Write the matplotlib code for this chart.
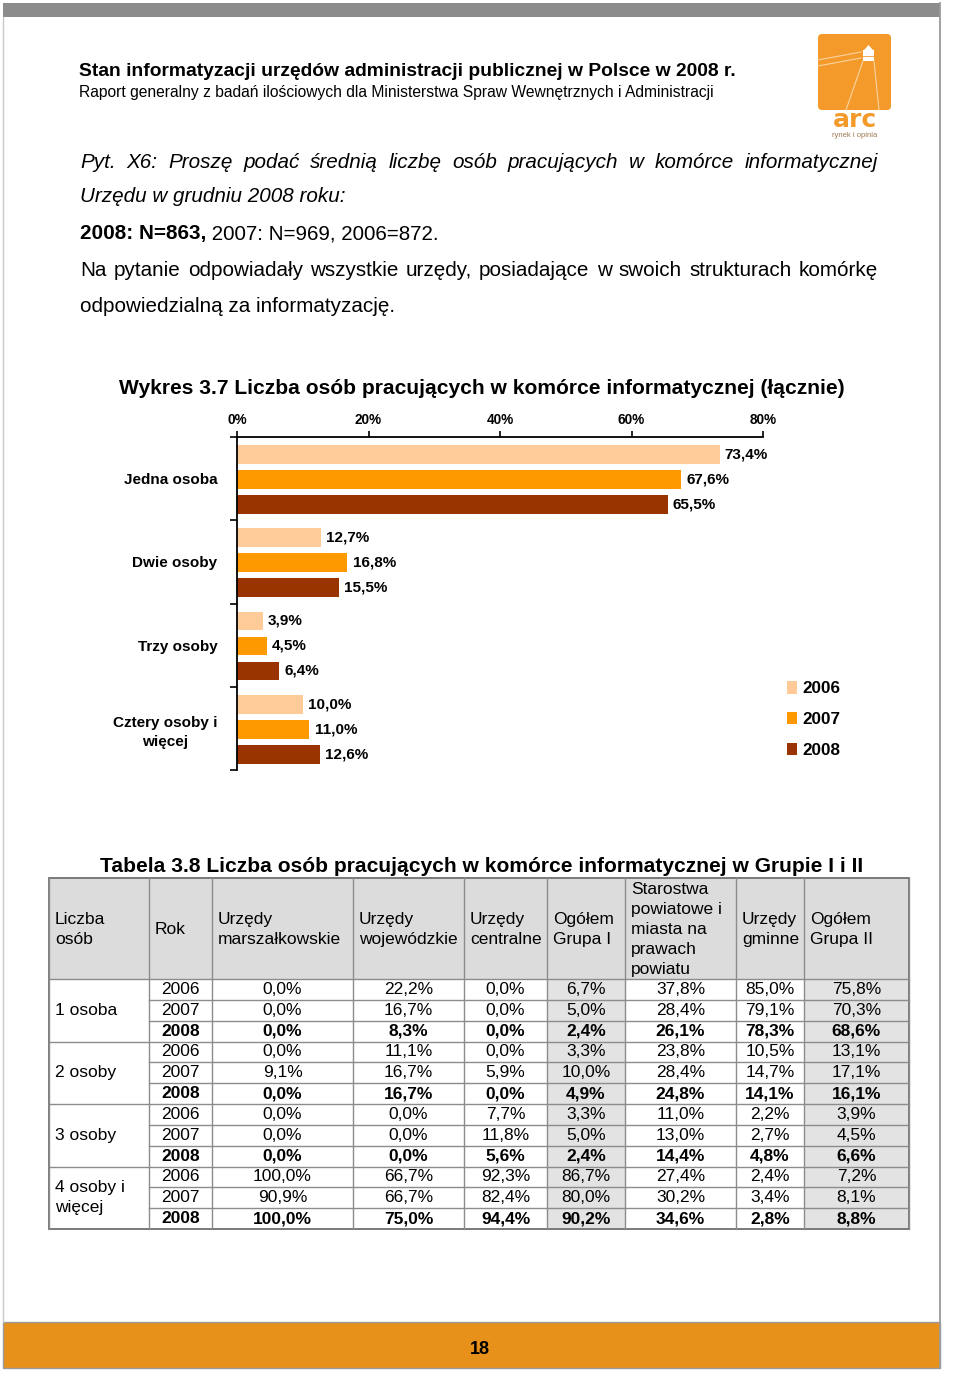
import matplotlib
matplotlib.use('Agg')
import matplotlib.pyplot as plt
from matplotlib.patches import Rectangle, FancyBboxPatch, Polygon
import numpy as np

plt.rcParams['font.family'] = ['Liberation Sans', 'DejaVu Sans']

# ---------------- chart data ----------------
categories = ["Jedna osoba", "Dwie osoby", "Trzy osoby", "Cztery osoby i\nwięcej"]
years = ["2006", "2007", "2008"]
share_2006 = [73.4, 12.7, 3.9, 10.0]
share_2007 = [67.6, 16.8, 4.5, 11.0]
share_2008 = [65.5, 15.5, 6.4, 12.6]
x_ticks = [0, 20, 40, 60, 80]
x_tick_labels = ["0%", "20%", "40%", "60%", "80%"]
bar_colors = ["#FFCC99", "#FF9900", "#993300"]

# ---------------- table data ----------------
table_headers = ["Liczba\nosób", "Rok", "Urzędy\nmarszałkowskie", "Urzędy\nwojewódzkie",
                 "Urzędy\ncentralne", "Ogółem\nGrupa I",
                 "Starostwa\npowiatowe i\nmiasta na\nprawach\npowiatu",
                 "Urzędy\ngminne", "Ogółem\nGrupa II"]
table_groups = ["1 osoba", "2 osoby", "3 osoby", "4 osoby i\nwięcej"]
table_years = ["2006", "2007", "2008"]
urz_marszalkowskie = [0.0, 0.0, 0.0, 0.0, 9.1, 0.0, 0.0, 0.0, 0.0, 100.0, 90.9, 100.0]
urz_wojewodzkie = [22.2, 16.7, 8.3, 11.1, 16.7, 16.7, 0.0, 0.0, 0.0, 66.7, 66.7, 75.0]
urz_centralne = [0.0, 0.0, 0.0, 0.0, 5.9, 0.0, 7.7, 11.8, 5.6, 92.3, 82.4, 94.4]
ogolem_grupa_1 = [6.7, 5.0, 2.4, 3.3, 10.0, 4.9, 3.3, 5.0, 2.4, 86.7, 80.0, 90.2]
starostwa = [37.8, 28.4, 26.1, 23.8, 28.4, 24.8, 11.0, 13.0, 14.4, 27.4, 30.2, 34.6]
urz_gminne = [85.0, 79.1, 78.3, 10.5, 14.7, 14.1, 2.2, 2.7, 4.8, 2.4, 3.4, 2.8]
ogolem_grupa_2 = [75.8, 70.3, 68.6, 13.1, 17.1, 16.1, 3.9, 4.5, 6.6, 7.2, 8.1, 8.8]
value_columns = [urz_marszalkowskie, urz_wojewodzkie, urz_centralne, ogolem_grupa_1,
                 starostwa, urz_gminne, ogolem_grupa_2]
shaded_columns = [5, 8]


def pct(v):
    return f"{v:.1f}%".replace('.', ',')


W, H = 960, 1380
fig = plt.figure(figsize=(W / 100, H / 100), dpi=100)
renderer = fig.canvas.get_renderer()

bg = fig.add_axes([0, 0, 1, 1])
bg.set_xlim(0, W)
bg.set_ylim(H, 0)
bg.axis('off')


def text_width(t):
    return t.get_window_extent(renderer=renderer).width


def fit_text(ax, x, y, s, width, size0=12, **kw):
    t = ax.text(x, y, s, fontsize=size0, **kw)
    w = text_width(t)
    t.set_fontsize(size0 * width / w)
    return t


def justify(ax, x0, x1, y, s, size, **kw):
    words = s.split()
    ts = [ax.text(x0, y, w, fontsize=size, va='center', ha='left', **kw) for w in words]
    widths = [text_width(t) for t in ts]
    gap = (x1 - x0 - sum(widths)) / (len(words) - 1)
    x = x0
    for t, w in zip(ts, widths):
        t.set_x(x)
        x += w + gap


# ---------------- page frame ----------------
bg.add_patch(Rectangle((3, 3), 937, 14, facecolor='#8c8c8c', edgecolor='none'))
bg.plot([940, 940], [3, 1368], color='#9a9a9a', lw=1.3)
bg.plot([3, 3], [17, 1322], color='#c8c8c8', lw=1.0)
bg.add_patch(Rectangle((3, 1322), 937, 46, facecolor='#E8911A', edgecolor='#9a9a9a', lw=1.0))
bg.text(480, 1349, "18", fontsize=13, weight='bold', ha='center', va='center', color='black')

# ---------------- header ----------------
fit_text(bg, 79, 72, "Stan informatyzacji urzędów administracji publicznej w Polsce w 2008 r.",
         654, weight='bold', va='center', ha='left')
fit_text(bg, 79, 93, "Raport generalny z badań ilościowych dla Ministerstwa Spraw Wewnętrznych i Administracji",
         638, va='center', ha='left')

# logo
logo_orange = '#F39A2B'
bg.add_patch(FancyBboxPatch((818, 34), 73, 76, boxstyle='round,pad=0,rounding_size=4',
                            facecolor=logo_orange, edgecolor='none'))
bg.plot([818, 861], [60, 52], color='#FBD3A0', lw=0.8)
bg.plot([818, 861], [66, 58], color='#FBD3A0', lw=0.8)
bg.plot([863, 846], [61, 110], color='#FBD3A0', lw=0.8)
bg.plot([874, 879], [61, 110], color='#FBD3A0', lw=0.8)
bg.add_patch(Rectangle((863, 50), 11, 11, facecolor='white', edgecolor='none'))
bg.add_patch(Polygon([(864, 50), (868.5, 45), (873, 50)], closed=True, facecolor='white', edgecolor='none'))
bg.plot([863, 874], [56, 56], color=logo_orange, lw=0.6)
bg.text(854.5, 127, "arc", fontsize=18, weight='bold', va='baseline', ha='center', color=logo_orange,
        family=['DejaVu Sans'])
bg.text(854.5, 137, "rynek i opinia", fontsize=5.5, va='baseline', ha='center', color='#a07850')

# ---------------- question text ----------------
probe = bg.text(80, 306, "odpowiedzialną za informatyzację.", fontsize=12, va='center', ha='left')
q_size = 12 * 316 / text_width(probe)
probe.set_fontsize(q_size)
justify(bg, 80, 878, 162, "Pyt. X6: Proszę podać  średnią liczbę osób pracujących w komórce informatycznej",
        q_size, style='italic')
bg.text(80, 197, "Urzędu w grudniu 2008 roku:", fontsize=q_size, style='italic', va='center', ha='left')
tb = bg.text(80, 234, "2008: N=863,", fontsize=q_size, weight='bold', va='center', ha='left')
bg.text(80 + text_width(tb), 234, " 2007: N=969, 2006=872.", fontsize=q_size, va='center', ha='left')
justify(bg, 80, 878, 270, "Na pytanie odpowiadały wszystkie urzędy, posiadające w swoich strukturach komórkę",
        q_size)

# ---------------- chart ----------------
fit_text(bg, 119, 388, "Wykres 3.7 Liczba osób pracujących w komórce informatycznej (łącznie)",
         721, weight='bold', va='center', ha='left')

ax = fig.add_axes([237 / W, 1 - 770 / H, 526 / W, 333 / H])
ypos = np.arange(len(categories)) + 0.5
series = [share_2006, share_2007, share_2008]
handles = []
for j, (vals, col) in enumerate(zip(series, bar_colors)):
    yy = ypos + (j - 1) * 0.3 + 0.01
    b = ax.barh(yy, vals, height=0.225, color=col, label=years[j])
    handles.append(b)
    for v, y in zip(vals, yy):
        ax.text(v + 0.8, y, pct(v), va='center', ha='left', fontsize=11, weight='bold')

ax.set_xlim(0, 80)
ax.set_ylim(len(categories), 0)
ax.spines['right'].set_visible(False)
ax.spines['bottom'].set_visible(False)
ax.spines['top'].set_linewidth(1.3)
ax.spines['left'].set_linewidth(1.3)
ax.xaxis.tick_top()
ax.set_xticks(x_ticks, x_tick_labels)
ax.tick_params(axis='x', direction='out', length=4, width=1.2, pad=3.5, labelsize=9.8)
for lbl in ax.get_xticklabels():
    lbl.set_fontweight('bold')
ax.set_yticks(ypos, categories)
ax.tick_params(axis='y', which='major', length=0, pad=14, labelsize=11)
for lbl in ax.get_yticklabels():
    lbl.set_fontweight('bold')
    lbl.set_multialignment('center')
    lbl.set_linespacing(1.45)
ax.set_yticks(np.arange(len(categories) + 1), minor=True)
ax.tick_params(axis='y', which='minor', length=5, width=1.2, direction='out')
ax.patch.set_alpha(0)

ax.legend(handles=handles, loc='upper left', bbox_to_anchor=(787 / W, 1 - 681 / H),
          bbox_transform=fig.transFigure, frameon=False,
          prop={'weight': 'bold', 'size': 12.3}, handlelength=0.6, handleheight=0.75,
          handletextpad=0.3, labelspacing=0.92, borderpad=0, borderaxespad=0)

# ---------------- table ----------------
fit_text(bg, 100, 866, "Tabela 3.8 Liczba osób pracujących w komórce informatycznej w Grupie I i II",
         760, weight='bold', va='center', ha='left')

col_edges = [49, 149, 212, 353, 464, 547, 625, 736, 804, 909]
t_top, t_head, t_bot = 878, 979, 1229
n_rows = len(table_groups) * len(table_years)
row_h = (t_bot - t_head) / n_rows
tfs = 12.5

bg.add_patch(Rectangle((col_edges[0], t_top), col_edges[-1] - col_edges[0], t_head - t_top,
                       facecolor='#DCDCDC', edgecolor='none'))
for c in shaded_columns:
    bg.add_patch(Rectangle((col_edges[c], t_head), col_edges[c + 1] - col_edges[c], t_bot - t_head,
                           facecolor='#E3E3E3', edgecolor='none'))

line_c = '#8c8c8c'
for x in col_edges:
    bg.plot([x, x], [t_top, t_bot], color=line_c, lw=1.0)
for r in range(1, n_rows):
    y = t_head + r * row_h
    x0 = col_edges[0] if r % len(table_years) == 0 else col_edges[1]
    bg.plot([x0, col_edges[-1]], [y, y], color=line_c, lw=1.0)
bg.plot([col_edges[0], col_edges[-1]], [t_head, t_head], color=line_c, lw=1.0)
bg.add_patch(Rectangle((col_edges[0], t_top), col_edges[-1] - col_edges[0], t_bot - t_top,
                       facecolor='none', edgecolor='#707070', lw=1.3))

for c, h in enumerate(table_headers):
    bg.text(col_edges[c] + 6, (t_top + t_head) / 2 + 1, h, fontsize=tfs, va='center', ha='left',
            linespacing=1.4)

for g, grp in enumerate(table_groups):
    yc = t_head + (g * len(table_years) + len(table_years) / 2) * row_h
    bg.text(col_edges[0] + 6, yc, grp, fontsize=tfs, va='center', ha='left', linespacing=1.4)
    for k, yr in enumerate(table_years):
        r = g * len(table_years) + k
        y = t_head + (r + 0.5) * row_h
        wt = 'bold' if yr == "2008" else 'normal'
        bg.text((col_edges[1] + col_edges[2]) / 2, y, yr, fontsize=tfs, weight=wt,
                va='center', ha='center')
        for ci, vals in enumerate(value_columns):
            c = ci + 2
            bg.text((col_edges[c] + col_edges[c + 1]) / 2, y, pct(vals[r]), fontsize=tfs,
                    weight=wt, va='center', ha='center')

fig.savefig('out.png', dpi=100)
